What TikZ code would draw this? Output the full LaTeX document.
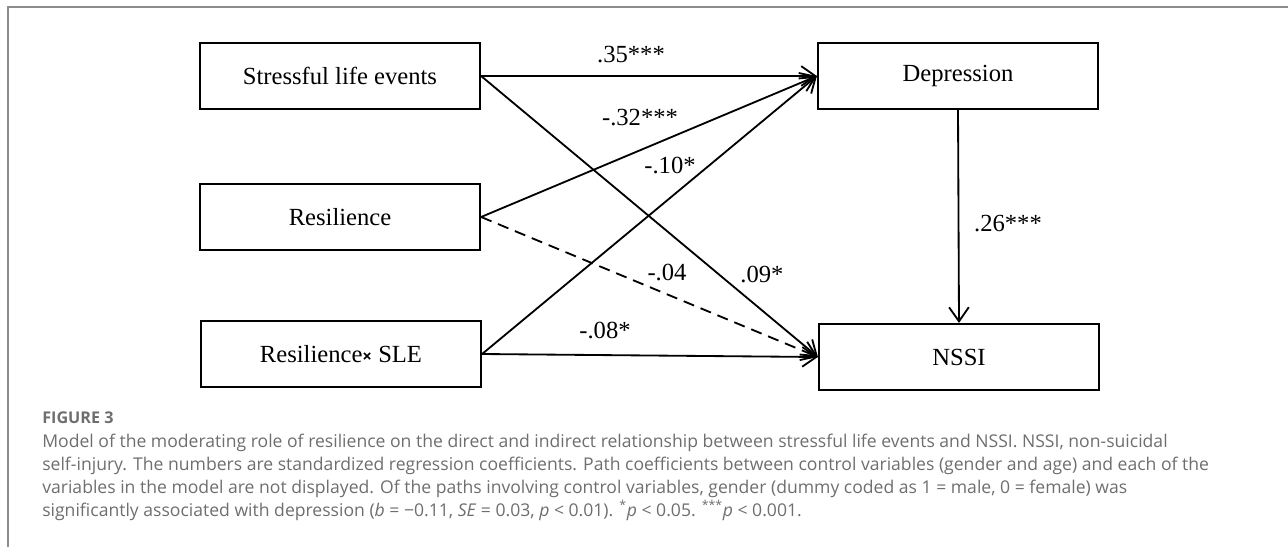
\documentclass[tikz,border=0pt]{standalone}
\usepackage{fontspec}
\setmainfont{Liberation Serif}
\newfontfamily\capfont{Open Sans}
\usepackage{xcolor}
\usetikzlibrary{arrows.meta}
\definecolor{capgray}{HTML}{6E6E6E}
\definecolor{framegray}{HTML}{8C8C8C}

\begin{document}
\begin{tikzpicture}[x=0.025cm, y=-0.025cm, every node/.style={font=\fontsize{17.5}{21}\selectfont}]
\tikzset{var/.style={draw, line width=1.5pt, minimum width=7cm, minimum height=1.65cm, inner sep=0},
  link/.style={-{Straight Barb[length=10pt,width=14pt]}, line width=1.3pt},
  coef/.style={inner sep=1pt},
  captxt/.style={anchor=base west, inner sep=0, text=capgray, font=\capfont\fontsize{12.5}{15}\selectfont}}
\useasboundingbox (0,0) rectangle (1288,547);
% --- frame ---
\draw[framegray, line width=0.8pt] (8,547) -- (8,7) -- (1288,7);
% --- variables ---
\node[var] (sle) at (340,76) {Stressful life events};
\node[var] (res) at (340,217) {Resilience};
\node[var] (rxs) at (341,354) {Resilience{\capfont\bfseries\fontsize{12}{14}\selectfont ×} SLE};
\node[var] (dep) at (958,76) {Depression};
\node[var] (nssi) at (959,357) {NSSI};
% --- paths ---
\foreach \a/\b in {sle/dep, sle/nssi, res/dep, rxs/dep, rxs/nssi} \draw[link] (\a.east) -- (\b.west);
\draw[link, dash pattern=on 8pt off 5pt] (res.east) -- (nssi.west);
\draw[link] (dep.south) -- (nssi.north);
% --- coefficients ---
\foreach \n/\x/\y/\t in {c35/631/55/{.35***}, c32/640/118/{-.32***}, c10/670/165/{-.10*},
  c04/667/272/{-.04}, c09/762/274/{.09*}, c08/605/330/{-.08*}, c26/1008/224/{.26***}}
  \node[coef] (\n) at (\x,\y) {\t};
% --- caption ---
\node[captxt, font=\capfont\bfseries\fontsize{11.5}{13}\selectfont] (fig) at (42,423) {FIGURE 3};
\foreach \i/\t in {1/{Model of the moderating role of resilience on the direct and indirect relationship between stressful life events and NSSI. NSSI, non-suicidal},
  2/{self-injury. The numbers are standardized regression coefficients. Path coefficients between control variables (gender and age) and each of the},
  3/{variables in the model are not displayed. Of the paths involving control variables, gender (dummy coded as 1 = male, 0 = female) was},
  4/{significantly associated with depression (\textit{b} = −0.11, \textit{SE} = 0.03, \textit{p} < 0.01). \textsuperscript{*}\textit{p} < 0.05. \textsuperscript{***}\textit{p} < 0.001.}}
  \node[captxt] (cap\i) at (42,424+23*\i) {\t};
\end{tikzpicture}
\end{document}
